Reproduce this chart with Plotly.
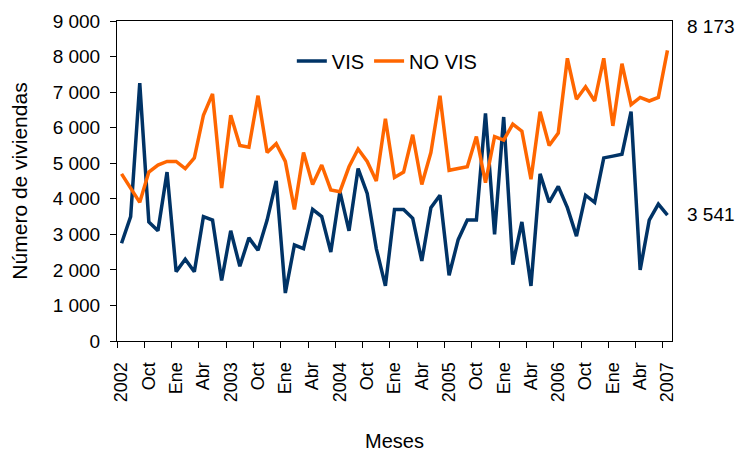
import plotly.graph_objects as go

# --------------------------------------------------------------------------- #
# Data: monthly housing units, Jul 2002 - Jul 2007
# --------------------------------------------------------------------------- #

MESES_NOMBRE = ["Jul", "Ago", "Sep", "Oct", "Nov", "Dic",
                "Ene", "Feb", "Mar", "Abr", "May", "Jun"]

vis = [
    2750, 3500, 7250, 3350, 3100, 4750, 1950, 2300, 1950, 3500, 3400, 1700,
    3100, 2100, 2900, 2550, 3400, 4500, 1350, 2700, 2600, 3700, 3500, 2500,
    4200, 3100, 4850, 4150, 2600, 1550, 3700, 3700, 3450, 2250, 3750, 4100,
    1850, 2850, 3400, 3400, 6400, 3000, 6300, 2150, 3350, 1550, 4700, 3900,
    4350, 3750, 2950, 4100, 3900, 5150, 5200, 5250, 6450, 2000, 3400, 3850,
    3541,
]

no_vis = [
    4700, 4300, 3900, 4750, 4950, 5050, 5050, 4850, 5150, 6350, 6950, 4300,
    6350, 5500, 5450, 6900, 5300, 5550, 5050, 3700, 5300, 4400, 4950, 4250,
    4200, 4900, 5400, 5050, 4500, 6250, 4600, 4750, 5800, 4400, 5300, 6900,
    4800, 4850, 4900, 5750, 4450, 5750, 5650, 6100, 5900, 4550, 6450, 5500,
    5850, 7950, 6800, 7150, 6750, 7950, 6050, 7800, 6650, 6850, 6750, 6850,
    8173,
]

tick_labels = ["2002", "Oct", "Ene", "Abr", "2003", "Oct", "Ene", "Abr",
               "2004", "Oct", "Ene", "Abr", "2005", "Oct", "Ene", "Abr",
               "2006", "Oct", "Ene", "Abr", "2007"]

y_ticks = [0, 1000, 2000, 3000, 4000, 5000, 6000, 7000, 8000, 9000]

BLUE = "#003366"
ORANGE = "#FF6600"
FONT = "Liberation Sans, Arial, sans-serif"


def fmt(v):
    return f"{v:,}".replace(",", " ")


x = list(range(len(vis)))
labels = [f"{MESES_NOMBRE[i % 12]} {2002 + (i + 6) // 12}" for i in x]

fig = go.Figure()
fig.add_trace(go.Scatter(
    x=x, y=vis, mode="lines", name="VIS",
    line=dict(color=BLUE, width=3.5),
    customdata=labels, hovertemplate="%{customdata}<br>%{y}<extra>VIS</extra>",
))
fig.add_trace(go.Scatter(
    x=x, y=no_vis, mode="lines", name="NO VIS",
    line=dict(color=ORANGE, width=3.5),
    customdata=labels, hovertemplate="%{customdata}<br>%{y}<extra>NO VIS</extra>",
))

# end-of-series value labels on the right
fig.add_annotation(x=1, xref="paper", xanchor="left", xshift=13,
                   y=no_vis[-1], yref="y", yshift=24,
                   text=fmt(no_vis[-1]), showarrow=False,
                   font=dict(size=19, color="#000000"))
fig.add_annotation(x=1, xref="paper", xanchor="left", xshift=13,
                   y=vis[-1], yref="y", yshift=1,
                   text=fmt(vis[-1]), showarrow=False,
                   font=dict(size=19, color="#000000"))

fig.update_layout(
    width=741, height=452,
    paper_bgcolor="white", plot_bgcolor="white",
    font=dict(family=FONT, color="#000000", size=18),
    margin=dict(l=117, r=69, t=21, b=111),
    showlegend=True,
    legend=dict(orientation="h", x=0.315, xanchor="left", y=0.875, yanchor="middle",
                font=dict(size=20), bgcolor="rgba(0,0,0,0)", itemwidth=30),
    xaxis=dict(
        range=[-0.5, len(vis) - 0.5], automargin=False,
        tickmode="array", tickvals=list(range(0, len(vis), 3)), ticktext=tick_labels,
        tickangle=-90, ticks="", ticklabelstandoff=13,
        showline=True, linecolor="#000000", linewidth=1, mirror=True,
        showgrid=False, zeroline=False,
        minor=dict(tickmode="linear", tick0=-0.5, dtick=3, ticks="outside",
                   ticklen=6, tickcolor="#000000", showgrid=False),
        title=dict(text="Meses", font=dict(size=20), standoff=33),
    ),
    yaxis=dict(
        range=[0, 9000], automargin=False,
        tickmode="array", tickvals=y_ticks, ticktext=[fmt(v) for v in y_ticks],
        tickfont=dict(size=19),
        ticks="outside", ticklen=6, tickcolor="#000000", ticklabelstandoff=6,
        showline=True, linecolor="#000000", linewidth=1, mirror=True,
        showgrid=False, zeroline=False,
        title=dict(text="Número de viviendas", font=dict(size=21), standoff=19),
    ),
)

fig.write_html("out.html", config={"displayModeBar": False},
               post_script="document.body.style.margin='0';")
